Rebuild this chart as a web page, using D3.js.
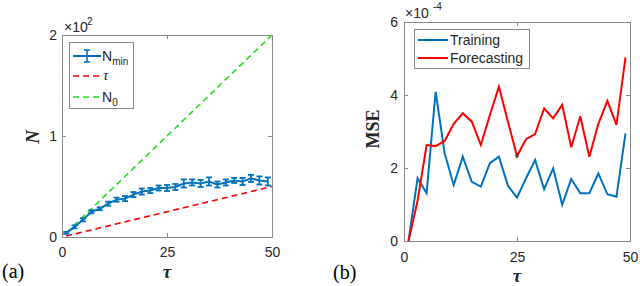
<!DOCTYPE html>
<html>
<head>
<meta charset="utf-8">
<script src="https://cdn.jsdelivr.net/npm/d3@7"></script>
<style>
body { margin: 0; background: #fff; }
svg { display: block; }
</style>
</head>
<body>
<svg width="640" height="286"></svg>
<script>
// panel (a) data
const tauA = [1,3,5,7,9,11,13,15,17,19,21,23,25,27,29,31,33,35,37,39,41,43,45,47,49];
const nMin = [4,10,17,25,28,33,37,38,42,45,46,48.5,48.5,49.5,53,54,53,55,52,54,56,55,58,56,55];
const nErr = [1,1.5,1.5,1.5,1.5,2,2,2.5,2.5,3,2.5,2.5,3,3,4,3,3.5,4,3,3,2.5,3.5,3.5,4,4];
const refTau = [1, 50];
const refTauN = [1, 50];   // N = tau
const refN0 = [4, 200];    // N0
const ticksAX = [0, 25, 50];
const ticksAY = [0, 100, 200];

// panel (b) data (units of 1e-4)
const tauB = [1,3,5,7,9,11,13,15,17,19,21,23,25,27,29,31,33,35,37,39,41,43,45,47,49];
const mseTrain = [0,1.72,1.31,4.09,2.40,1.53,2.31,1.62,1.49,2.13,2.31,1.51,1.19,1.72,2.22,1.42,1.99,0.99,1.70,1.31,1.31,1.85,1.28,1.21,2.95];
const mseFore = [0,1.1,2.63,2.60,2.74,3.21,3.50,3.27,2.63,3.45,4.23,3.27,2.33,2.79,2.93,3.63,3.36,3.73,2.57,3.42,2.31,3.21,3.84,3.18,5.03];
const ticksBX = [0, 25, 50];
const ticksBY = [0, 2, 4, 6];

const blue = "#0072bd", red = "#ff0000", green = "#1ee01e";
const axisCol = "#8a8a8a", textCol = "#262626";
const sans = "'Liberation Sans', Arial, sans-serif";
const serif = "'Liberation Serif', 'Times New Roman', serif";

const svg = d3.select("svg");

function frame(g, x, y, xt, yt, yfmt, w, h, padX, padY) {
  g.append("g").attr("transform", `translate(0,${h})`)
    .call(d3.axisBottom(x).tickValues(xt).tickSize(-4).tickPadding(padX))
  g.append("g").call(d3.axisTop(x).tickValues(xt).tickSize(-4).tickFormat(""))
  g.append("g").call(d3.axisLeft(y).tickValues(yt).tickSize(-4).tickPadding(padY).tickFormat(yfmt))
  g.append("g").attr("transform", `translate(${w},0)`)
    .call(d3.axisRight(y).tickValues(yt).tickSize(-4).tickFormat(""))
  g.selectAll(".domain").attr("stroke", axisCol).attr("stroke-width", 1)
  g.selectAll(".tick line").attr("stroke", axisCol)
  g.selectAll(".tick text").attr("fill", textCol).attr("font-size", "14px").attr("font-family", sans)
}

// ---------- (a) ----------
const aL = 62, aR = 272, aT = 35, aB = 237;
const aW = aR - aL, aH = aB - aT;
const gA = svg.append("g").attr("transform", `translate(${aL},${aT})`)
const xA = d3.scaleLinear().domain([0, 50]).range([0, aW])
const yA = d3.scaleLinear().domain([0, 200]).range([aH, 0])

frame(gA, xA, yA, ticksAX, ticksAY, d => d / 100, aW, aH, 10, 5)

const lineA = d3.line().x(d => xA(d[0])).y(d => yA(d[1]))

gA.append("path").datum(d3.zip(refTau, refTauN))
  .attr("d", lineA).attr("fill", "none").attr("stroke", red)
  .attr("stroke-width", 1.6).attr("stroke-dasharray", "6,4")
gA.append("path").datum(d3.zip(refTau, refN0))
  .attr("d", lineA).attr("fill", "none").attr("stroke", green)
  .attr("stroke-width", 1.6).attr("stroke-dasharray", "6,4")

gA.append("path").datum(d3.zip(tauA, nMin))
  .attr("d", lineA).attr("fill", "none").attr("stroke", blue).attr("stroke-width", 2)

const bars = gA.append("g").attr("stroke", blue).attr("stroke-width", 1.8)
tauA.forEach((t, i) => {
  const x = xA(t), y0 = yA(nMin[i] - nErr[i]), y1 = yA(nMin[i] + nErr[i])
  bars.append("line").attr("x1", x).attr("x2", x).attr("y1", y0).attr("y2", y1)
  bars.append("line").attr("x1", x - 3).attr("x2", x + 3).attr("y1", y0).attr("y2", y0)
  bars.append("line").attr("x1", x - 3).attr("x2", x + 3).attr("y1", y1).attr("y2", y1)
})

// exponent
svg.append("text").attr("x", 64).attr("y", 32).attr("font-family", sans)
  .attr("font-size", "14px").attr("fill", textCol).text("×10")
svg.append("text").attr("x", 87).attr("y", 25).attr("font-family", sans)
  .attr("font-size", "10px").attr("fill", textCol).text("2")

// legend (a)
const legA = svg.append("g")
legA.append("rect").attr("x", 69.5).attr("y", 42.5).attr("width", 64).attr("height", 66)
  .attr("fill", "#fff").attr("stroke", axisCol)
legA.append("line").attr("x1", 73).attr("x2", 101).attr("y1", 56).attr("y2", 56)
  .attr("stroke", blue).attr("stroke-width", 2)
legA.append("line").attr("x1", 87).attr("x2", 87).attr("y1", 50).attr("y2", 62)
  .attr("stroke", blue).attr("stroke-width", 1.6)
legA.append("line").attr("x1", 84).attr("x2", 90).attr("y1", 50).attr("y2", 50)
  .attr("stroke", blue).attr("stroke-width", 1.6)
legA.append("line").attr("x1", 84).attr("x2", 90).attr("y1", 62).attr("y2", 62)
  .attr("stroke", blue).attr("stroke-width", 1.6)
legA.append("line").attr("x1", 73).attr("x2", 101).attr("y1", 76).attr("y2", 76)
  .attr("stroke", red).attr("stroke-width", 1.6).attr("stroke-dasharray", "6,4")
legA.append("line").attr("x1", 73).attr("x2", 101).attr("y1", 97).attr("y2", 97)
  .attr("stroke", green).attr("stroke-width", 1.6).attr("stroke-dasharray", "6,4")

const t1 = legA.append("text").attr("x", 102).attr("y", 61).attr("font-family", sans)
  .attr("font-size", "14px").attr("fill", textCol)
t1.append("tspan").text("N")
t1.append("tspan").attr("font-size", "10px").attr("dy", 4).text("min")
legA.append("text").attr("x", 103).attr("y", 80).attr("font-family", serif)
  .attr("font-style", "italic").attr("font-size", "15px").attr("fill", textCol).text("τ")
const t3 = legA.append("text").attr("x", 102).attr("y", 102).attr("font-family", sans)
  .attr("font-size", "14px").attr("fill", textCol)
t3.append("tspan").text("N")
t3.append("tspan").attr("font-size", "10px").attr("dy", 4).text("0")

// axis labels (a)
svg.append("text").attr("transform", "translate(39,137) rotate(-90)")
  .attr("text-anchor", "middle").attr("font-family", serif).attr("font-style", "italic")
  .attr("font-weight", "bold").attr("font-size", "19px").attr("fill", textCol).text("N")
svg.append("text").attr("x", aL + aW / 2).attr("y", 278)
  .attr("text-anchor", "middle").attr("font-family", serif).attr("font-style", "italic")
  .attr("font-weight", "bold").attr("font-size", "19px").attr("fill", textCol).text("τ")
svg.append("text").attr("x", 2).attr("y", 278).attr("font-family", serif)
  .attr("font-size", "20px").attr("fill", "#000").text("(a)")

// ---------- (b) ----------
const bL = 404, bR = 630, bT = 22, bB = 241;
const bW = bR - bL, bH = bB - bT;
const gB = svg.append("g").attr("transform", `translate(${bL},${bT})`)
const xB = d3.scaleLinear().domain([0, 50]).range([0, bW])
const yB = d3.scaleLinear().domain([0, 6]).range([bH, 0])

frame(gB, xB, yB, ticksBX, ticksBY, d => d, bW, bH, 11, 6)

const lineB = d3.line().x((d, i) => xB(tauB[i])).y(d => yB(d))
gB.append("path").datum(mseTrain).attr("d", lineB).attr("fill", "none")
  .attr("stroke", blue).attr("stroke-width", 2)
gB.append("path").datum(mseFore).attr("d", lineB).attr("fill", "none")
  .attr("stroke", red).attr("stroke-width", 2)
gB.append("circle").attr("cx", xB(tauB[12])).attr("cy", yB(mseFore[12])).attr("r", 1.8)
  .attr("fill", "#444")

svg.append("text").attr("x", 405).attr("y", 18).attr("font-family", sans)
  .attr("font-size", "14px").attr("fill", textCol).text("×10")
svg.append("text").attr("x", 433).attr("y", 10).attr("font-family", sans)
  .attr("font-size", "10px").attr("fill", textCol).text("-4")

// legend (b)
const legB = svg.append("g")
legB.append("rect").attr("x", 414.5).attr("y", 29.5).attr("width", 115).attr("height", 39)
  .attr("fill", "#fff").attr("stroke", axisCol)
legB.append("line").attr("x1", 418).attr("x2", 448).attr("y1", 40).attr("y2", 40)
  .attr("stroke", blue).attr("stroke-width", 2)
legB.append("line").attr("x1", 418).attr("x2", 448).attr("y1", 58).attr("y2", 58)
  .attr("stroke", red).attr("stroke-width", 2)
legB.append("text").attr("x", 450).attr("y", 45).attr("font-family", sans)
  .attr("font-size", "14px").attr("fill", textCol).text("Training")
legB.append("text").attr("x", 450).attr("y", 63).attr("font-family", sans)
  .attr("font-size", "14px").attr("fill", textCol).text("Forecasting")

svg.append("text").attr("transform", "translate(379,129) rotate(-90)")
  .attr("text-anchor", "middle").attr("font-family", serif)
  .attr("font-weight", "bold").attr("font-size", "18px").attr("fill", textCol).text("MSE")
svg.append("text").attr("x", bL + bW / 2).attr("y", 282)
  .attr("text-anchor", "middle").attr("font-family", serif).attr("font-style", "italic")
  .attr("font-weight", "bold").attr("font-size", "19px").attr("fill", textCol).text("τ")
svg.append("text").attr("x", 333).attr("y", 279).attr("font-family", serif)
  .attr("font-size", "20px").attr("fill", "#000").text("(b)")
</script>
</body>
</html>
